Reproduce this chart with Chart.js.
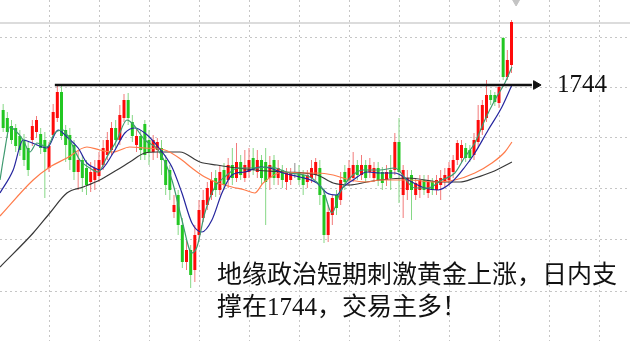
<!DOCTYPE html>
<html>
<head>
<meta charset="utf-8">
<script src="https://cdn.jsdelivr.net/npm/chart.js@4"></script>
<style>
    html, body { margin: 0; padding: 0; background: #fff; }
    #wrap { width: 630px; height: 341px; }
</style>
</head>
<body>
<div id="wrap"><canvas id="goldChart" width="630" height="341"></canvas></div>
<script>
// candles, one per bar index starting at 1 (prices in USD/oz)
const openP = [
    1739, 1737.4, 1735.8, 1735.4, 1733.8, 1733, 1731.4, 1733, 1734.6, 1734.2,
    1733, 1727.4, 1734, 1737.4, 1742.6, 1735, 1734, 1732, 1726.6, 1729,
    1727.4, 1724.6, 1725, 1725.8, 1728, 1730, 1731, 1735.4, 1733, 1737.4,
    1741, 1736.6, 1732, 1733.8, 1736.2, 1733, 1730.6, 1731, 1731.4, 1729,
    1727, 1718.6, 1722, 1716, 1708.6, 1711, 1707, 1714, 1717.4, 1720,
    1722, 1725.4, 1723, 1727, 1725, 1728, 1725.4, 1728.6, 1725.4, 1726.6,
    1729.4, 1726.6, 1729, 1728.6, 1725.4, 1729, 1725.4, 1727, 1724.6, 1725,
    1726.4, 1726.6, 1726, 1724.6, 1725.4, 1726, 1727.4, 1722, 1714, 1718,
    1722, 1721, 1726.6, 1725, 1725.4, 1728, 1726, 1728, 1726.6, 1725.4,
    1727.4, 1726.6, 1725, 1727, 1727, 1732.6, 1722, 1723, 1726, 1722,
    1723, 1725, 1722.4, 1724.6, 1723, 1724, 1724.6, 1725, 1726.6, 1729,
    1729.4, 1731.4, 1731, 1730, 1732.6, 1735, 1737.4, 1742, 1742, 1740.4,
    1753.4, 1745.6, 1748
];
const highP = [
    1740.2, 1738.6, 1737, 1736.2, 1735, 1734.2, 1732.6, 1737, 1737.8, 1735.4,
    1734.6, 1732.6, 1740.2, 1744, 1743.8, 1736, 1735.4, 1733, 1731, 1730,
    1729, 1728.6, 1729, 1730.6, 1733, 1734.6, 1736.6, 1737, 1740, 1742.2,
    1742.4, 1738, 1735.4, 1735, 1737, 1735, 1734, 1733.4, 1733, 1730,
    1728, 1722, 1723, 1717.4, 1713, 1712, 1716, 1721, 1723, 1724.6,
    1726.6, 1727, 1728, 1728.4, 1729.4, 1731.4, 1732.4, 1730, 1731, 1731.4,
    1731.4, 1731, 1730, 1731.4, 1729.8, 1730, 1729, 1728, 1727.4, 1727.4,
    1728.4, 1728, 1727, 1727, 1729, 1729.4, 1729, 1723.4, 1720, 1722,
    1723, 1726.6, 1728, 1729, 1730.6, 1729, 1730, 1729, 1729.4, 1728.6,
    1728.6, 1727.6, 1728, 1730, 1734.4, 1737.4, 1728, 1727, 1727, 1725.4,
    1726, 1726, 1726, 1725.4, 1726, 1727, 1727.4, 1728.6, 1730, 1733,
    1733, 1732.4, 1732, 1734.4, 1740, 1741, 1745, 1743, 1742.6, 1744,
    1753.6, 1751, 1757
];
const lowP = [
    1734.6, 1733.4, 1732.2, 1730.6, 1729.8, 1727.8, 1725.8, 1731.8, 1733.4, 1730.2,
    1721.4, 1726.6, 1733.4, 1736.6, 1733, 1728.6, 1727, 1725, 1723, 1722.6,
    1722, 1722.6, 1723, 1724.6, 1727, 1729, 1730, 1731.4, 1732, 1736.6,
    1736, 1732.6, 1730.6, 1729, 1729, 1728, 1729, 1729.4, 1726, 1722,
    1721, 1717.4, 1714, 1707.4, 1707, 1703.4, 1704.6, 1713, 1716.6, 1719,
    1721, 1721.6, 1722, 1723, 1723.4, 1724, 1724.6, 1725, 1724.6, 1725.4,
    1726, 1725.4, 1724, 1716, 1723, 1724, 1724, 1723.4, 1723, 1724,
    1725.4, 1724, 1722, 1723.4, 1724.4, 1725, 1720, 1712.4, 1712.6, 1716,
    1718, 1720, 1723, 1723.8, 1724.6, 1725, 1725, 1724.4, 1725.4, 1724.6,
    1723.8, 1723, 1723.8, 1723, 1726, 1720.4, 1717.4, 1721, 1717, 1721,
    1721.4, 1722, 1721.4, 1722, 1722, 1721, 1723.4, 1724, 1725.4, 1728,
    1728.6, 1728.6, 1728.6, 1729, 1731.4, 1734, 1736.6, 1740, 1739.8, 1739.4,
    1745, 1745, 1746.4
];
const closeP = [
    1735.4, 1734.6, 1733, 1731.8, 1731, 1729, 1727, 1735.8, 1737, 1731.4,
    1730.6, 1731.8, 1738.6, 1742.6, 1733.8, 1732, 1729, 1726.6, 1729, 1725.4,
    1724, 1726.6, 1727.4, 1729, 1731.4, 1733, 1735.4, 1733, 1738, 1741,
    1737.4, 1733.8, 1733.8, 1731, 1730, 1730.6, 1733, 1732.6, 1729, 1724,
    1723, 1720, 1716, 1708.6, 1711, 1706, 1714, 1719, 1721, 1723.4,
    1725, 1723, 1726.6, 1724, 1728, 1725.4, 1728.6, 1726, 1728, 1729,
    1727, 1729, 1725.4, 1724.6, 1728, 1725.4, 1727.4, 1725, 1726.6, 1726.6,
    1726.4, 1725, 1724, 1726, 1727.4, 1728.6, 1722, 1714, 1718.6, 1721.4,
    1719.4, 1725, 1724.6, 1727.4, 1728, 1726, 1728, 1725.4, 1728, 1727.4,
    1725, 1724.4, 1726.6, 1725.4, 1732.6, 1726.6, 1727, 1725.4, 1723, 1724.4,
    1725, 1723, 1724.6, 1723, 1725, 1725.4, 1726, 1727.4, 1729, 1732.4,
    1732, 1729.4, 1729.4, 1733, 1737, 1740, 1742, 1741, 1740.6, 1743.6,
    1745.6, 1749, 1756.6
];

// moving averages: bar position / price
const maFastX = [0.24, 1.2, 2.6, 3.8, 5.8, 7.4, 9.1, 11.5, 13.4, 15.4, 17, 19.4, 21.8, 23.8, 25.9, 28.3, 30.7, 31.9, 35, 38.2, 41.5, 43.9, 46.3, 47.5, 49.4, 51.8, 54.2, 57.4, 61.4, 65, 69.8, 74.6, 77.8, 79.9, 81.8, 84.2, 87.4, 91.4, 95, 99.8, 103, 106.3, 109.4, 111.8, 114.2, 116.6, 119, 121.4, 123.1];
const maFastY = [1725, 1730, 1735.6, 1735, 1733, 1730.6, 1732.4, 1731.6, 1734.4, 1735, 1733, 1729, 1727.4, 1726.6, 1729.6, 1733, 1737, 1736.4, 1733, 1731, 1725, 1717, 1710.4, 1711.6, 1718.4, 1723.6, 1725.6, 1727.4, 1727.4, 1727.6, 1726.4, 1725.6, 1723, 1718.4, 1722.4, 1725.4, 1727, 1727, 1727.4, 1723.4, 1723.4, 1725, 1726.4, 1729.6, 1732.4, 1737, 1741, 1744.4, 1747.6];
const maMidX = [0.24, 3.4, 5.8, 7.4, 11.5, 14.2, 16.3, 19, 21.1, 23, 24.2, 27.4, 30.2, 32.6, 35, 38.2, 41.5, 43.9, 46.3, 48.7, 51.1, 53.5, 55.9, 59, 62.6, 65, 68.2, 72.2, 76.3, 78.7, 81.1, 82.6, 85, 88.3, 91.4, 95, 98.2, 102.2, 105.4, 108.7, 111.8, 114.2, 117.4, 120.7, 123.1];
const maMidY = [1722.4, 1727, 1733, 1732.6, 1731.4, 1735, 1733.6, 1731.4, 1728.4, 1727.4, 1727, 1730.4, 1734.4, 1735.4, 1734.4, 1731.6, 1727.6, 1722.4, 1716.4, 1714.6, 1717, 1722.4, 1726, 1726.6, 1727.6, 1727.4, 1726.4, 1725.6, 1724.4, 1722.4, 1722, 1723.6, 1725, 1726.6, 1726.4, 1726.4, 1725, 1723.4, 1723, 1724.6, 1727.6, 1730.4, 1735, 1739.6, 1744];
const maSlowX = [0.24, 8.2, 12.2, 16.3, 21.1, 24.2, 27.4, 31.4, 35, 39.8, 43.9, 46.3, 49.4, 52.6, 55.9, 59, 61.4, 63.4, 68.2, 72.2, 76.3, 80.2, 84.2, 88.3, 91.4, 98.2, 104.6, 109.4, 114.2, 118.3, 121.4, 123.1];
const maSlowY = [1717.8, 1725, 1727.6, 1729.4, 1731.6, 1731, 1730.6, 1731.6, 1731.4, 1731, 1729, 1727.4, 1725.6, 1724.4, 1723.6, 1723, 1722.4, 1724.4, 1726.6, 1726.4, 1726.4, 1726, 1725, 1724.6, 1725, 1725, 1724.6, 1725, 1726.4, 1728.4, 1730.6, 1732.6];
const maLongX = [0.24, 8.2, 12.2, 16.3, 20.2, 24.2, 28.3, 31.4, 35, 37.9, 43.4, 48.2, 52.3, 57.1, 61.4, 68.2, 76.3, 80.2, 84.2, 88.3, 91.4, 98.2, 106.3, 110.6, 114.2, 118.3, 123.1];
const maLongY = [1707.6, 1714.4, 1718.4, 1722.4, 1723.6, 1725, 1727, 1728.6, 1730.4, 1730.6, 1730.6, 1728.6, 1728, 1727.4, 1727, 1726.6, 1726, 1724.4, 1724, 1724.6, 1725, 1725.4, 1724.6, 1724.6, 1725.4, 1726.6, 1728.6];

// support level and its arrow (bar positions)
const levelPrice = 1744;
const arrowFrom = 13.4;
const arrowTo = 127.9;
const arrowHeadAt = 128.9;
const topRulePrice = 1756.4;
const markerAt = 124.1;

// grid positions
const xGrid = [12, 24, 36, 48, 60, 72, 84, 96, 108, 120, 132, 144];
const yGrid = [1753.6, 1743.6, 1733.4, 1723.2, 1713, 1702.8];
const xMin = 0.24, xMax = 151.44;
const yMin = 1692.8, yMax = 1761;

const noteLines = ['地缘政治短期刺激黄金上涨，日内支', '撑在1744，交易主多！'];

const upColor = '#ff0a0a', downColor = '#22c722', flatColor = '#8a8a8a';
const upWick = '#f27a7a', downWick = '#86d886';

function toPoints(xs, ys) {
    return xs.map((x, k) => ({x: x, y: ys[k]}));
}

const bodies = openP.map((o, k) => ({x: k + 1, y: [o, closeP[k]]}));
const wicks = openP.map((o, k) => ({x: k + 1, y: [lowP[k], highP[k]]}));
const bodyColors = openP.map((o, k) => closeP[k] > o ? upColor : (closeP[k] < o ? downColor : flatColor));
const wickColors = openP.map((o, k) => closeP[k] > o ? upWick : (closeP[k] < o ? downWick : flatColor));

function maLine(xs, ys, color, order) {
    return {
        type: 'line',
        data: toPoints(xs, ys),
        borderColor: color,
        borderWidth: 1.2,
        pointRadius: 0,
        cubicInterpolationMode: 'monotone',
        order: order,
    };
}

const notesPlugin = {
    id: 'notes',
    afterDraw(chart) {
        const ctx = chart.ctx;
        const yPix = chart.scales.y.getPixelForValue(levelPrice);
        ctx.save();
        ctx.fillStyle = '#111';
        ctx.textBaseline = 'middle';
        ctx.font = '25px "Liberation Serif", "Noto Sans CJK SC"';
        ctx.fillText(String(levelPrice), 557, yPix);
        ctx.fillText(noteLines[0], 217, 276);
        ctx.fillText(noteLines[1], 217, 308);
        ctx.restore();
    }
};

let goldCtx = document.getElementById('goldChart').getContext('2d');
const goldChart = new Chart(goldCtx, {
    type: 'line',
    data: {
        datasets: [
            {
                type: 'line',
                data: [{x: arrowFrom, y: levelPrice}, {x: arrowTo, y: levelPrice}],
                borderColor: '#111',
                borderWidth: 2.5,
                pointRadius: 0,
                order: 0,
            },
            {
                type: 'line',
                data: [{x: arrowHeadAt, y: levelPrice}],
                showLine: false,
                pointStyle: 'triangle',
                rotation: 90,
                pointRadius: 5,
                backgroundColor: '#111',
                borderColor: '#111',
                order: 0,
            },
            maLine(maFastX, maFastY, '#3f9a70', 1),
            maLine(maMidX, maMidY, '#25259e', 1),
            maLine(maSlowX, maSlowY, '#ff7b4a', 1),
            maLine(maLongX, maLongY, '#383838', 1),
            {
                type: 'bar',
                data: bodies,
                backgroundColor: bodyColors,
                borderWidth: 0,
                grouped: false,
                maxBarThickness: 3,
                categoryPercentage: 1,
                barPercentage: 0.75,
                minBarLength: 1,
                order: 2,
            },
            {
                type: 'bar',
                data: wicks,
                backgroundColor: wickColors,
                borderWidth: 0,
                grouped: false,
                maxBarThickness: 1,
                order: 3,
            },
            {
                type: 'line',
                data: [{x: xMin, y: topRulePrice}, {x: xMax, y: topRulePrice}],
                borderColor: '#dcdcdc',
                borderWidth: 2,
                pointRadius: 0,
                order: 4,
            },
            {
                type: 'line',
                data: [{x: markerAt, y: yMax}],
                showLine: false,
                pointStyle: 'triangle',
                rotation: 180,
                pointRadius: 6,
                backgroundColor: '#c4c4c4',
                borderColor: '#c4c4c4',
                order: 4,
            },
        ],
    },
    options: {
        responsive: false,
        animation: false,
        events: [],
        layout: {padding: 0, autoPadding: false},
        plugins: {
            legend: {display: false},
            tooltip: {enabled: false},
        },
        scales: {
            x: {
                type: 'linear',
                min: xMin,
                max: xMax,
                offset: false,
                afterBuildTicks: s => { s.ticks = xGrid.map(v => ({value: v})); },
                ticks: {display: false},
                grid: {color: '#c6c6c6', lineWidth: 1, drawTicks: false, offset: false},
                border: {display: false, dash: [2, 3]},
            },
            y: {
                type: 'linear',
                min: yMin,
                max: yMax,
                afterBuildTicks: s => { s.ticks = yGrid.map(v => ({value: v})); },
                ticks: {display: false},
                grid: {color: '#c6c6c6', lineWidth: 1, drawTicks: false},
                border: {display: false, dash: [2, 3]},
            },
        },
    },
    plugins: [notesPlugin],
});
</script>
</body>
</html>
